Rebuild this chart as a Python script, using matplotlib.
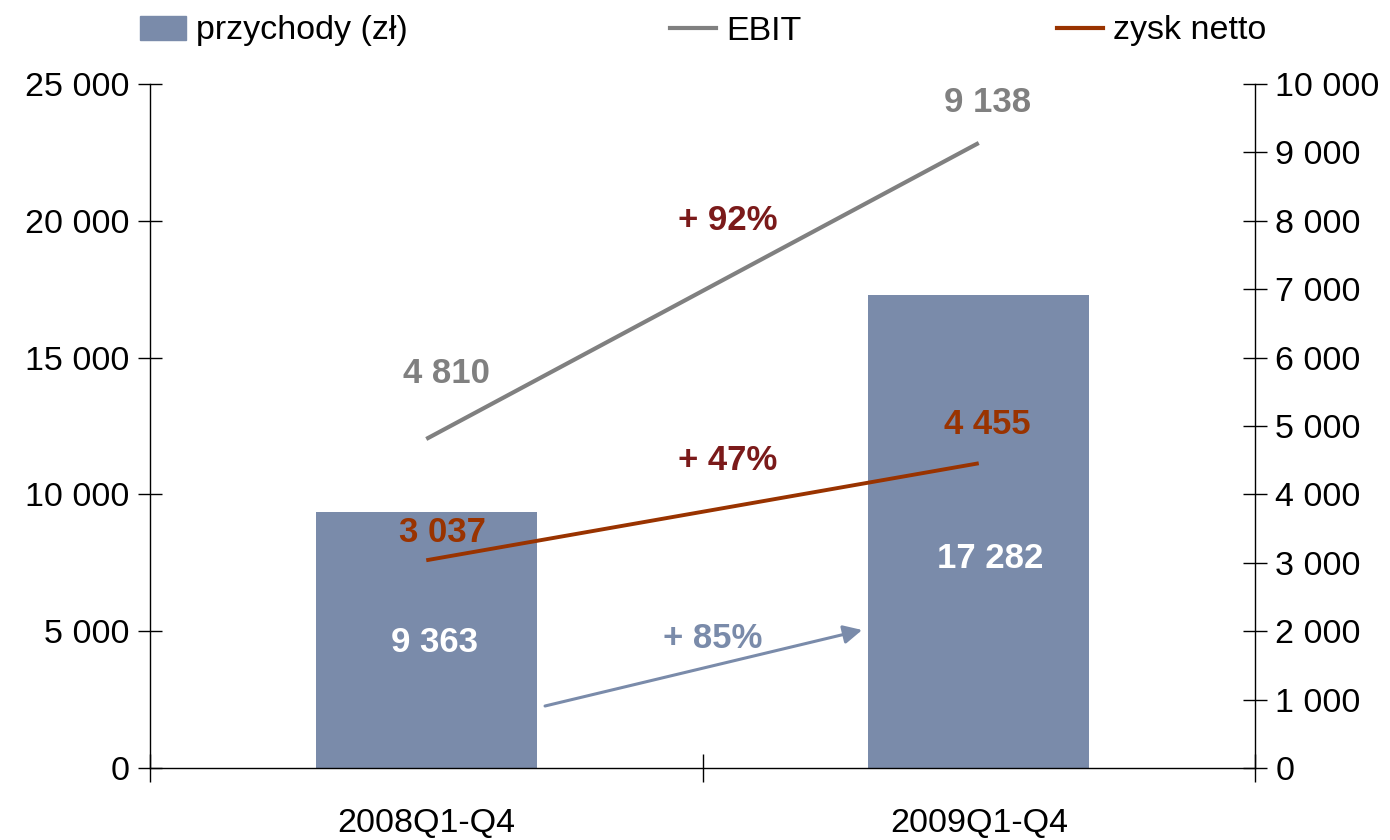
import matplotlib
matplotlib.use('Agg')
import matplotlib.pyplot as plt
from matplotlib.patches import Patch
from matplotlib.lines import Line2D

# dane
kategorie = ['2008Q1-Q4', '2009Q1-Q4']
przychody = [9363, 17282]
ebit = [4810, 9138]
zysk_netto = [3037, 4455]
zmiany = ['+ 92%', '+ 47%', '+ 85%']

KOLOR_BAR = '#7A8BAA'
KOLOR_EBIT = '#808080'
KOLOR_ZYSK = '#993300'
KOLOR_PROC = '#7B1A1A'

FONT = 'Liberation Sans'
plt.rcParams['font.family'] = FONT


def fmt(v):
    return '{:,}'.format(v).replace(',', ' ')


fig = plt.figure(figsize=(13.9, 8.4), dpi=100)
ax = fig.add_axes([150 / 1390, 1 - 768 / 840, 1105 / 1390, 684 / 840])
ax2 = ax.twinx()

x = [0.5, 1.5]
ax.bar(x, przychody, width=0.4, color=KOLOR_BAR, zorder=2)
ax.set_xlim(0, 2)
ax.set_ylim(0, 25000)
ax2.set_ylim(0, 10000)

ax2.plot(x, ebit, color=KOLOR_EBIT, lw=3, solid_capstyle='butt')
ax2.plot(x, zysk_netto, color=KOLOR_ZYSK, lw=2.8, solid_capstyle='butt')

# osie
for a in (ax, ax2):
    a.spines['top'].set_visible(False)
    for s in a.spines.values():
        s.set_linewidth(1)
ax.spines['right'].set_visible(False)
ax2.spines['left'].set_visible(False)
ax2.spines['bottom'].set_visible(False)

ax.set_yticks(range(0, 25001, 5000))
ax.set_yticklabels([fmt(v) for v in range(0, 25001, 5000)])
ax2.set_yticks(range(0, 10001, 1000))
ax2.set_yticklabels([fmt(v) for v in range(0, 10001, 1000)])
ax.tick_params(axis='y', direction='inout', length=17, width=1, pad=6, labelsize=24.5)
ax2.tick_params(axis='y', direction='inout', length=17, width=1, pad=6, labelsize=24.5)

ax.set_xticks([0, 1, 2])
ax.set_xticklabels(['', '', ''])
ax.set_xticks(x, minor=True)
ax.set_xticklabels(kategorie, minor=True, fontsize=24.5)
ax.tick_params(axis='x', which='major', direction='inout', length=20, width=1)
ax.tick_params(axis='x', which='minor', length=0, pad=29)

# etykiety wartosci
b = dict(fontsize=25, fontweight='bold', ha='center', va='center')
ax2.annotate(fmt(ebit[0]), (x[0], ebit[0]), xytext=(20, 65), textcoords='offset pixels', color=KOLOR_EBIT, **b)
ax2.annotate(fmt(ebit[1]), (x[1], ebit[1]), xytext=(9, 40), textcoords='offset pixels', color=KOLOR_EBIT, **b)
ax2.annotate(fmt(zysk_netto[0]), (x[0], zysk_netto[0]), xytext=(16, 28), textcoords='offset pixels', color=KOLOR_ZYSK, **b)
ax2.annotate(fmt(zysk_netto[1]), (x[1], zysk_netto[1]), xytext=(9, 39), textcoords='offset pixels', color=KOLOR_ZYSK, **b)
ax.annotate(fmt(przychody[0]), (x[0], przychody[0]), xytext=(8, -131), textcoords='offset pixels', color='white', **b)
ax.annotate(fmt(przychody[1]), (x[1], przychody[1]), xytext=(11, -263), textcoords='offset pixels', color='white', **b)

ax.text(0.523, 0.800, zmiany[0], transform=ax.transAxes, color=KOLOR_PROC, **b)
ax.text(0.523, 0.450, zmiany[1], transform=ax.transAxes, color=KOLOR_PROC, **b)
ax.text(0.509, 0.190, zmiany[2], transform=ax.transAxes, color=KOLOR_BAR, **b)

# strzalka przychodow
ax.annotate('', xy=(1.289, 5044), xytext=(0.715, 2266),
            arrowprops=dict(arrowstyle='-|>', color=KOLOR_BAR, lw=2.2, mutation_scale=28,
                            shrinkA=0, shrinkB=0))

# legenda
leg = dict(frameon=False, loc='center left', borderpad=0, borderaxespad=0,
           handletextpad=0.3, handlelength=1.35, handleheight=0.7,
           prop={'size': 24.5})
fig.legend([Patch(color=KOLOR_BAR)], ['przychody (zł)'], bbox_to_anchor=(140 / 1390, 1 - 31 / 840), **leg)
fig.legend([Line2D([], [], color=KOLOR_EBIT, lw=3)], ['EBIT'], bbox_to_anchor=(670 / 1390, 1 - 31 / 840), **leg)
fig.legend([Line2D([], [], color=KOLOR_ZYSK, lw=3)], ['zysk netto'], bbox_to_anchor=(1057 / 1390, 1 - 31 / 840), **leg)

plt.savefig('out.png', dpi=100)
